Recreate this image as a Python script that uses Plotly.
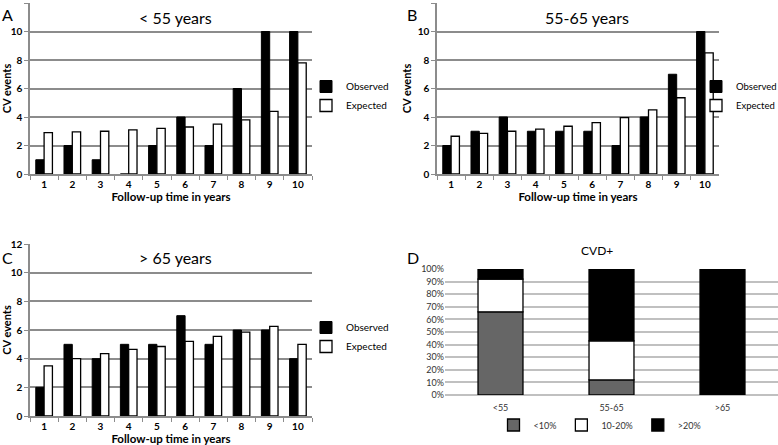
import plotly.graph_objects as go

years = [str(i) for i in range(1, 11)]
obs_a = [1, 2, 1, 0, 2, 4, 2, 6, 10, 10]
exp_a = [2.9, 2.95, 3.0, 3.1, 3.2, 3.3, 3.5, 3.8, 4.4, 7.8]
obs_b = [2, 3, 4, 3, 3, 3, 2, 4, 7, 10]
exp_b = [2.65, 2.85, 3.0, 3.15, 3.35, 3.6, 3.95, 4.5, 5.35, 8.5]
obs_c = [2, 5, 4, 5, 5, 7, 5, 6, 6, 4]
exp_c = [3.5, 4.0, 4.35, 4.65, 4.85, 5.2, 5.55, 5.85, 6.25, 5.0]

age_groups = ["<55", "55-65", ">65"]
risk_lt10 = [66, 12, 0]
risk_10_20 = [26, 31, 0]
risk_gt20 = [8, 57, 100]

W, H = 778, 445
FONT = "Lato, 'Noto Sans', sans-serif"
GRID = "#8c8c8c"

def px(x):
    return x / W

def py(y):
    return 1 - y / H

fig = go.Figure()

panels = [
    ("", obs_a, exp_a, "legend"),
    ("2", obs_b, exp_b, "legend2"),
    ("3", obs_c, exp_c, "legend3"),
]
for suf, o, e, lg in panels:
    fig.add_trace(go.Bar(x=years, y=o, name="Observed", xaxis="x" + suf, yaxis="y" + suf,
                         marker=dict(color="black", line=dict(color="black", width=1)),
                         legend=lg))
    fig.add_trace(go.Bar(x=years, y=e, name="Expected", xaxis="x" + suf, yaxis="y" + suf,
                         marker=dict(color="white", line=dict(color="black", width=1.3)),
                         legend=lg))

# Panel D stacked via explicit base
base2 = risk_lt10
base3 = [a + b for a, b in zip(risk_lt10, risk_10_20)]
for name, vals, base, col in [("<10%", risk_lt10, None, "#666666"),
                              ("10-20%", risk_10_20, base2, "white"),
                              (">20%", risk_gt20, base3, "black")]:
    fig.add_trace(go.Bar(x=age_groups, y=vals, base=base, name=name, xaxis="x4", yaxis="y4",
                         width=0.405, offset=-0.2025,
                         marker=dict(color=col, line=dict(color="black", width=1.3)),
                         legend="legend4"))

def bar_x(domain):
    return dict(domain=domain, type="category", tickson="boundaries", ticks="outside",
                ticklen=4, tickcolor=GRID, showline=True, linecolor=GRID, linewidth=1.5,
                tickfont=dict(family=FONT, size=10, color="black", weight="bold"),
                title=dict(text="Follow-up time in years", standoff=4,
                           font=dict(family=FONT, size=11.5, color="black", weight="bold")),
                showgrid=False, fixedrange=True, automargin=False)

def bar_y(domain, anchor):
    return dict(domain=domain, anchor=anchor, range=[0, 12], dtick=2, ticks="outside",
                ticklen=4, tickcolor=GRID, showline=True, linecolor=GRID, linewidth=1.5,
                showgrid=True, gridcolor=GRID, gridwidth=1.5, zeroline=False,
                automargin=False,
                tickfont=dict(family=FONT, size=10, color="black", weight="bold"),
                title=dict(text="CV events", standoff=4,
                           font=dict(family=FONT, size=11, color="black", weight="bold")))

xa = bar_x([px(30), px(312)]); xa["anchor"] = "y"
xb = bar_x([px(437), px(719)]); xb["anchor"] = "y2"
xc = bar_x([px(30), px(312)]); xc["anchor"] = "y3"

fig.update_layout(
    width=W, height=H, margin=dict(l=0, r=0, t=0, b=0, autoexpand=False),
    paper_bgcolor="white", plot_bgcolor="white",
    barmode="group", bargap=0.41, bargroupgap=0,
    font=dict(family=FONT, color="black"),
    xaxis=xa, yaxis=bar_y([py(174), py(3)], "x"),
    xaxis2=xb, yaxis2=bar_y([py(174), py(3)], "x2"),
    xaxis3=xc, yaxis3=bar_y([py(416), py(244)], "x3"),
    xaxis4=dict(domain=[px(445), 1.0], anchor="y4", type="category", showgrid=False,
                showline=False, ticks="", ticklabelstandoff=6,
                tickfont=dict(family=FONT, size=9, color="#333"),
                fixedrange=True, automargin=False),
    yaxis4=dict(domain=[py(395), py(269)], anchor="x4", range=[0, 100], dtick=10,
                ticksuffix="%", showgrid=True, gridcolor="#c0c0c0", gridwidth=1.5,
                zeroline=True, zerolinecolor="#c0c0c0", zerolinewidth=1.5, automargin=False,
                tickfont=dict(family=FONT, size=9, color="#333")),
    showlegend=True,
)

def leg(x, y, fs=10):
    return dict(x=x, y=y, xanchor="left", yanchor="middle", orientation="v",
                bgcolor="rgba(0,0,0,0)", font=dict(family=FONT, size=fs, color="black"),
                itemwidth=30, tracegroupgap=0, traceorder="normal")

fig.update_layout(
    legend=leg(px(306), py(96)),
    legend2=leg(px(696), py(96), fs=9.5),
    legend3=leg(px(306), py(337)),
    legend4=dict(x=px(600), y=py(425), xanchor="center", yanchor="middle", orientation="h",
                 bgcolor="rgba(0,0,0,0)", font=dict(family=FONT, size=9, color="#333"),
                 itemwidth=30, traceorder="normal"),
)

ann = [
    dict(text="< 55 years", x=px(175), y=py(17), size=16),
    dict(text="55-65 years", x=px(587), y=py(17), size=16),
    dict(text="> 65 years", x=px(175), y=py(257), size=16),
    dict(text="CVD+", x=px(597), y=py(250), size=12),
    dict(text="A", x=px(8), y=py(15), size=16),
    dict(text="B", x=px(412), y=py(15), size=16),
    dict(text="C", x=px(8), y=py(257), size=16),
    dict(text="D", x=px(413), y=py(257), size=16),
]
for a in ann:
    fig.add_annotation(text=a["text"], x=a["x"], y=a["y"], xref="paper", yref="paper",
                       showarrow=False, xanchor="center", yanchor="middle",
                       font=dict(family=FONT, size=a["size"], color="black"))

fig.write_html("out.html", config={"displayModeBar": False},
               post_script="document.body.style.margin='0px';")
